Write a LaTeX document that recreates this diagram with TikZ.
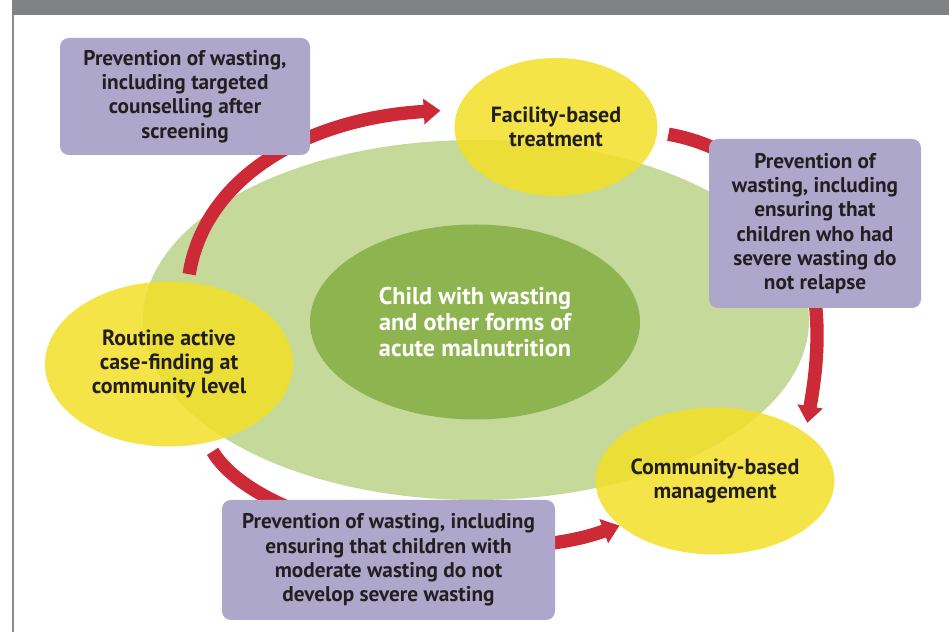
\documentclass[tikz,border=0pt]{standalone}
\usepackage{fontspec}
\setmainfont{PT Sans}
\usetikzlibrary{shapes.geometric, arrows.meta}
\definecolor{fillBar}{HTML}{808285}
\definecolor{lineFrame}{HTML}{8A8C8E}
\definecolor{fillOuter}{HTML}{C5D99B}
\definecolor{fillInner}{HTML}{8DB44F}
\definecolor{fillSpot}{HTML}{F2DF24}
\definecolor{fillBox}{HTML}{ADA7CB}
\definecolor{arrowRed}{HTML}{CC2A36}
\definecolor{textDark}{HTML}{231F20}

\begin{document}
\begin{tikzpicture}[
    myarrow/.style={draw=arrowRed, line width=7.6pt, -{Triangle[width=14pt, length=9.5pt]}},
    boxstyle/.style={rectangle, fill=fillBox, rounded corners=5pt, align=center, text=textDark,
        font=\bfseries\fontsize{12.1}{13.8}\selectfont},
    spotstyle/.style={ellipse, fill=fillSpot, fill opacity=0.84, text opacity=1, align=center,
        text=textDark, inner sep=0pt, font=\bfseries\fontsize{12.5}{13.8}\selectfont}
]

    \useasboundingbox (0,0) rectangle (18.98,12.64);

    % ==========================================
    % 1. FRAME
    % ==========================================

    \fill[fillBar] (0.24,12.34) rectangle (18.98,12.64);
    \fill[lineFrame] (0.24,0) rectangle (0.29,12.34);

    % ==========================================
    % 2. CENTRAL ELLIPSES
    % ==========================================

    \node[ellipse, fill=fillOuter, minimum width=13.32cm, minimum height=7.2cm] (outer) at (9.52, 6.24) {};

    \node[
        ellipse,
        fill=fillInner,
        minimum width=6.6cm,
        minimum height=3.9cm,
        align=center,
        text=white,
        font=\bfseries\fontsize{13.8}{15}\selectfont
    ] (child) at (9.5, 6.2) {Child with wasting\\and other forms of\\acute malnutrition};

    % ==========================================
    % 3. CARE STAGES (yellow)
    % ==========================================

    \node[spotstyle, minimum width=4.06cm, minimum height=2.76cm] (facility) at (11.12, 10.1) {Facility-based\\treatment};

    \node[spotstyle, minimum width=4.96cm, minimum height=3.3cm] (routine) at (3.38, 5.36) {Routine active\\case-finding at\\community level};

    \node[spotstyle, minimum width=4.7cm, minimum height=2.94cm] (community) at (14.3, 3.02) {Community-based\\management};

    % ==========================================
    % 4. CYCLE ARROWS
    % ==========================================

    \draw[myarrow, shorten <=0.16cm, shorten >=0.34cm] (routine.77) .. controls (4.1, 9.14) and (6.2, 10.28) .. (facility.170);

    \draw[myarrow, shorten <=0.22cm, shorten >=0.2cm] (facility.-3) .. controls (14.8, 9.7) and (15.96, 8.74) .. (16.3, 6.64)
        .. controls (16.42, 5.64) and (16.24, 4.74) .. (community.28);

    \draw[myarrow, shorten <=0.2cm] (routine.-64) .. controls (5.2, 2.04) and (9.8, 1.2) .. (community.205);

    % ==========================================
    % 5. PREVENTION BOXES (purple)
    % ==========================================

    \node[boxstyle, minimum width=5.0cm, minimum height=2.34cm] (targeted) at (3.7, 10.71) {Prevention of wasting,\\including targeted\\counselling after\\screening};

    \node[boxstyle, minimum width=4.24cm, minimum height=3.38cm] (relapse) at (16.3, 8.17) {Prevention of\\wasting, including\\ensuring that\\children who had\\severe wasting do\\not relapse};

    \node[boxstyle, minimum width=6.66cm, minimum height=2.4cm] (moderate) at (7.77, 1.44) {Prevention of wasting, including\\ensuring that children with\\moderate wasting do not\\develop severe wasting};

\end{tikzpicture}
\end{document}
